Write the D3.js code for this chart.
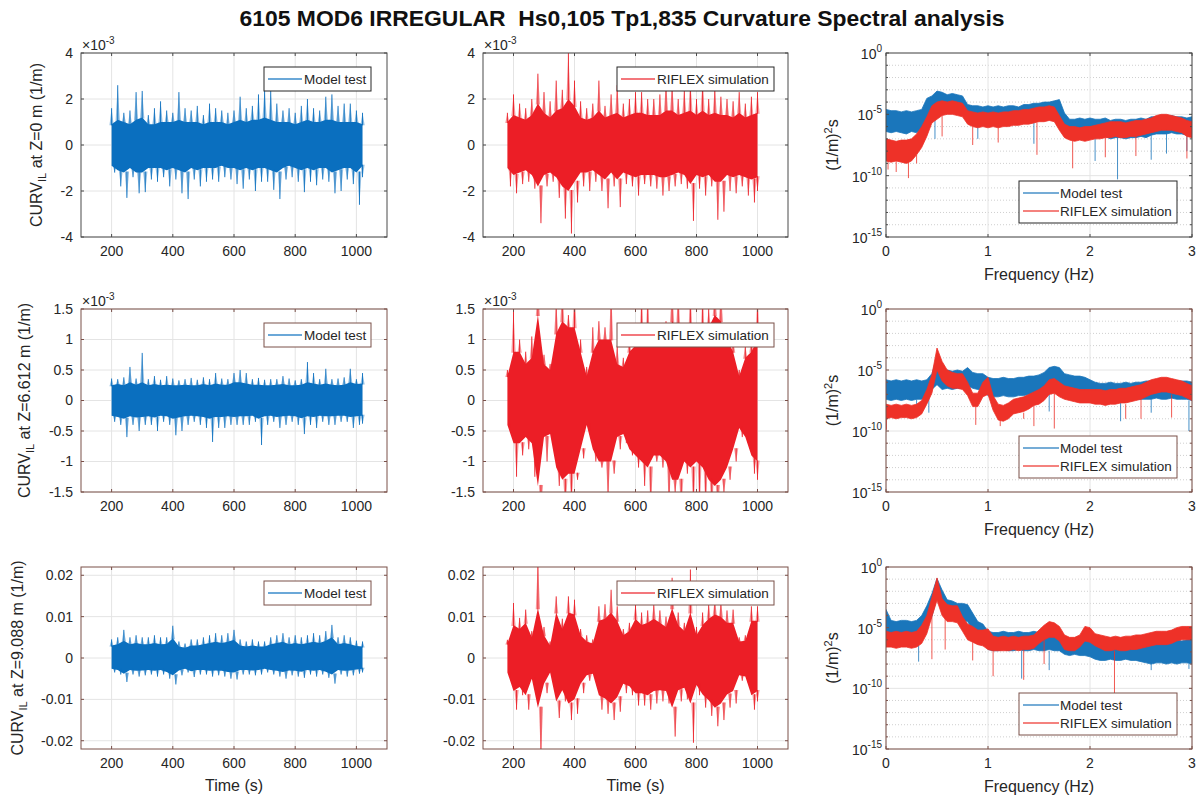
<!DOCTYPE html>
<html><head><meta charset="utf-8">
<script src="https://cdn.jsdelivr.net/npm/d3@7"></script>
<style>body{margin:0;background:#fff}svg{font-family:"Liberation Sans",Arial,Helvetica,sans-serif}</style>
</head><body>
<svg id="chart" width="1199" height="800"></svg>
<script>
// ---------------- DATA ----------------
const TITLE = "6105 MOD6 IRREGULAR  Hs0,105 Tp1,835 Curvature Spectral analysis";
const TIME_TICKS = [200,400,600,800,1000];
const TIME_DOMAIN = [100,1100];
const FREQ_TICKS = [0,1,2,3];
const PSD_EXP_TICKS = [-15,-10,-5,0];
const Y_TICKS_R1 = [-4,-2,0,2,4];
const Y_TICKS_R2 = [-1.5,-1,-0.5,0,0.5,1,1.5];
const Y_TICKS_R3 = [-0.02,-0.01,0,0.01,0.02];
const Z_LABELS = ["Z=0 m","Z=6.612 m","Z=9.088 m"];
const SERIES_NAMES = ["Model test","RIFLEX simulation"];

// time bins (s)
const T_MODEL = [200,220,240,260,280,300,320,340,360,380,400,420,440,460,480,500,520,540,560,580,600,620,640,660,680,700,720,740,760,780,800,820,840,860,880,900,920,940,960,980,1000,1020];
const T_RIFLEX = [180,200,220,240,260,280,300,320,340,360,380,400,420,440,460,480,500,520,540,560,580,600,620,640,660,680,700,720,740,760,780,800,820,840,860,880,900,920,940,960,980,1000];

// Z=0, model test (x1e-3 1/m): peak / trough per bin and dense core band
const Z0_MODEL_HI = [1.6,2.6,1.4,1.5,2.3,2.35,1.3,1.6,1.9,1.5,1.4,2.3,1.6,1.5,1.7,1.3,1.8,1.6,1.5,1.4,1.5,2.1,1.6,1.7,2.2,2.45,2.35,1.8,1.5,1.6,1.4,1.7,2.0,1.6,1.5,2.1,2.2,1.7,1.8,1.8,1.5,1.4];
const Z0_MODEL_LO = [-1.2,-1.8,-2.3,-1.4,-2.1,-2.05,-1.5,-1.6,-1.4,-1.8,-1.5,-2.1,-2.35,-1.5,-1.8,-1.6,-1.5,-1.6,-1.4,-1.5,-1.7,-1.9,-1.5,-2.0,-1.6,-1.6,-1.95,-2.35,-1.5,-1.4,-1.6,-2.05,-1.6,-1.75,-1.5,-1.6,-2.1,-2.0,-1.5,-1.7,-2.6,-1.4];
const Z0_MODEL_CHI = [0.9,1.1,1.0,0.9,1.1,1.2,0.9,0.9,1.0,1.0,1.0,1.1,1.0,1.0,1.0,0.9,1.0,1.0,1.0,0.9,1.0,1.1,1.0,1.1,1.1,1.2,1.1,1.0,1.0,1.0,0.9,1.0,1.1,1.0,1.0,1.1,1.1,1.0,1.0,1.0,1.0,0.9];
const Z0_MODEL_CLO = [-0.9,-1.1,-1.2,-1.0,-1.2,-1.2,-1.0,-1.0,-1.0,-1.1,-1.0,-1.1,-1.2,-1.0,-1.1,-1.0,-1.0,-1.0,-0.9,-1.0,-1.0,-1.1,-1.0,-1.1,-1.0,-1.0,-1.1,-1.2,-1.0,-0.9,-1.0,-1.1,-1.0,-1.1,-1.0,-1.0,-1.2,-1.1,-1.0,-1.0,-1.2,-0.9];
// Z=0, RIFLEX (x1e-3 1/m)
const Z0_RIF_HI = [1.4,2.2,1.8,1.6,2.0,3.1,2.3,1.9,2.8,2.4,4.0,2.8,1.9,1.6,1.8,2.8,1.7,2.2,2.6,1.8,2.0,2.3,2.3,2.0,2.0,2.2,2.7,2.6,2.0,2.4,2.7,2.0,2.8,2.0,2.5,2.1,2.0,1.9,2.3,1.8,2.1,2.3];
const Z0_RIF_LO = [-1.8,-2.1,-1.7,-1.6,-1.9,-3.4,-1.8,-1.6,-2.3,-3.2,-3.85,-2.5,-1.8,-2.0,-1.6,-2.0,-2.75,-1.8,-2.7,-1.7,-1.8,-2.2,-1.7,-1.8,-1.9,-2.2,-2.0,-1.8,-1.7,-1.9,-3.3,-1.9,-2.2,-1.8,-3.25,-2.9,-2.0,-2.1,-1.8,-2.2,-2.5,-2.0];
const Z0_RIF_CHI = [1.0,1.3,1.2,1.1,1.3,1.8,1.4,1.2,1.5,1.6,2.0,1.7,1.2,1.1,1.2,1.5,1.2,1.3,1.4,1.2,1.3,1.4,1.4,1.3,1.3,1.3,1.5,1.5,1.3,1.4,1.5,1.3,1.5,1.3,1.4,1.3,1.3,1.2,1.4,1.2,1.3,1.4];
const Z0_RIF_CLO = [-1.0,-1.3,-1.2,-1.1,-1.3,-1.8,-1.3,-1.2,-1.4,-1.8,-2.0,-1.6,-1.2,-1.2,-1.1,-1.3,-1.5,-1.2,-1.5,-1.2,-1.3,-1.4,-1.3,-1.3,-1.3,-1.4,-1.4,-1.3,-1.2,-1.3,-1.7,-1.3,-1.4,-1.3,-1.6,-1.6,-1.3,-1.4,-1.3,-1.4,-1.5,-1.4];
// Z=6.612, model test (x1e-3 1/m)
const Z6_MODEL_HI = [0.36,0.35,0.38,0.55,0.36,0.78,0.35,0.4,0.34,0.4,0.36,0.33,0.35,0.37,0.34,0.38,0.35,0.45,0.36,0.35,0.45,0.5,0.45,0.35,0.37,0.34,0.35,0.35,0.4,0.36,0.33,0.35,0.63,0.45,0.35,0.52,0.35,0.36,0.38,0.52,0.35,0.45];
const Z6_MODEL_LO = [-0.35,-0.4,-0.6,-0.4,-0.5,-0.4,-0.4,-0.5,-0.35,-0.4,-0.57,-0.5,-0.4,-0.35,-0.4,-0.45,-0.68,-0.45,-0.45,-0.4,-0.4,-0.4,-0.4,-0.35,-0.73,-0.4,-0.35,-0.45,-0.4,-0.35,-0.4,-0.55,-0.4,-0.45,-0.35,-0.4,-0.4,-0.35,-0.35,-0.45,-0.4,-0.38];
const Z6_MODEL_CHI = [0.25,0.27,0.25,0.3,0.26,0.3,0.25,0.27,0.25,0.26,0.25,0.25,0.26,0.25,0.25,0.27,0.25,0.28,0.26,0.26,0.3,0.3,0.28,0.26,0.26,0.25,0.25,0.26,0.27,0.25,0.25,0.26,0.3,0.28,0.26,0.28,0.26,0.25,0.26,0.3,0.27,0.28];
const Z6_MODEL_CLO = [-0.25,-0.27,-0.3,-0.26,-0.28,-0.27,-0.26,-0.28,-0.25,-0.26,-0.3,-0.28,-0.26,-0.25,-0.26,-0.27,-0.3,-0.27,-0.27,-0.26,-0.27,-0.26,-0.26,-0.25,-0.3,-0.26,-0.25,-0.27,-0.26,-0.25,-0.26,-0.29,-0.26,-0.27,-0.25,-0.26,-0.26,-0.25,-0.25,-0.27,-0.26,-0.25];
// Z=6.612, RIFLEX (x1e-3 1/m), peaks beyond 1.5 are clipped by the axes
const Z6_RIF_HI = [0.5,1.48,1.0,0.8,1.05,1.8,0.75,0.6,1.6,1.8,1.4,1.8,1.0,0.55,1.2,1.3,1.2,1.8,0.9,0.7,1.0,1.1,1.8,1.8,1.2,1.1,1.3,1.8,1.8,1.2,1.8,1.1,1.8,1.5,1.8,1.8,1.2,1.0,0.5,0.9,1.0,1.8];
const Z6_RIF_LO = [-0.45,-1.25,-0.9,-0.8,-1.25,-1.8,-1.0,-0.7,-1.4,-1.8,-1.7,-1.3,-0.95,-0.5,-1.0,-1.1,-1.6,-1.2,-0.8,-0.7,-0.9,-1.1,-1.4,-1.8,-1.0,-1.1,-1.8,-1.5,-1.8,-1.2,-1.8,-1.8,-1.8,-1.8,-1.8,-1.5,-1.3,-1.0,-0.6,-0.7,-1.2,-1.3];
const Z6_RIF_CHI = [0.4,0.8,0.8,0.6,0.7,1.4,0.6,0.5,1.1,1.3,1.2,1.2,0.8,0.4,0.8,1.0,1.0,1.0,0.6,0.55,0.8,0.9,1.0,1.0,0.9,0.9,1.0,1.3,1.2,1.0,1.1,0.9,1.0,1.2,1.4,1.3,1.0,0.8,0.4,0.7,0.8,1.0];
const Z6_RIF_CLO = [-0.4,-0.7,-0.7,-0.6,-0.7,-1.4,-0.6,-0.55,-1.1,-1.3,-1.2,-1.2,-0.8,-0.4,-0.8,-1.0,-1.0,-1.0,-0.6,-0.55,-0.8,-0.9,-1.0,-1.1,-0.9,-0.9,-1.0,-1.3,-1.3,-1.0,-1.1,-1.0,-1.1,-1.3,-1.4,-1.3,-1.1,-0.8,-0.45,-0.6,-0.9,-1.0];
// Z=9.088, model test (1/m)
const Z9_MODEL_HI = [0.0045,0.005,0.0068,0.005,0.0055,0.005,0.005,0.0055,0.005,0.005,0.0078,0.004,0.0035,0.0045,0.0045,0.005,0.0055,0.006,0.0055,0.006,0.0068,0.0045,0.004,0.0045,0.004,0.004,0.005,0.0055,0.006,0.005,0.0055,0.005,0.0055,0.006,0.0055,0.0065,0.008,0.005,0.0055,0.005,0.0042,0.004];
const Z9_MODEL_LO = [-0.0035,-0.004,-0.0058,-0.004,-0.0045,-0.0042,-0.004,-0.0045,-0.004,-0.005,-0.0064,-0.0042,-0.0035,-0.0046,-0.004,-0.004,-0.0045,-0.0042,-0.0045,-0.005,-0.0052,-0.004,-0.004,-0.0042,-0.004,-0.0035,-0.004,-0.0045,-0.005,-0.0042,-0.0045,-0.0048,-0.004,-0.0045,-0.004,-0.0048,-0.0062,-0.004,-0.0045,-0.0042,-0.0038,-0.0035];
const Z9_MODEL_CHI = [0.003,0.0033,0.0042,0.0033,0.0036,0.0033,0.0033,0.0036,0.0033,0.0034,0.0048,0.0028,0.0025,0.003,0.003,0.0033,0.0036,0.0039,0.0036,0.0039,0.0044,0.003,0.0028,0.003,0.0028,0.0028,0.0033,0.0036,0.0039,0.0033,0.0036,0.0033,0.0036,0.0039,0.0036,0.0042,0.005,0.0033,0.0036,0.0033,0.0029,0.0028];
const Z9_MODEL_CLO = [-0.0026,-0.0029,-0.0038,-0.0029,-0.0031,-0.003,-0.0029,-0.0031,-0.0029,-0.0034,-0.0042,-0.003,-0.0026,-0.0032,-0.0029,-0.0029,-0.0031,-0.003,-0.0031,-0.0034,-0.0035,-0.0029,-0.0029,-0.003,-0.0029,-0.0026,-0.0029,-0.0031,-0.0034,-0.003,-0.0031,-0.0033,-0.0029,-0.0031,-0.0029,-0.0033,-0.004,-0.0029,-0.0031,-0.003,-0.0028,-0.0026];
// Z=9.088, RIFLEX (1/m)
const Z9_RIF_HI = [0.0044,0.0133,0.0097,0.0117,0.0065,0.024,0.0075,0.004,0.0149,0.0095,0.0149,0.0141,0.007,0.0055,0.0045,0.0125,0.013,0.0165,0.0125,0.007,0.0085,0.013,0.011,0.0115,0.013,0.0115,0.010,0.0194,0.011,0.0085,0.0214,0.0075,0.011,0.013,0.014,0.0135,0.0115,0.0117,0.005,0.0055,0.0125,0.0125];
const Z9_RIF_LO = [-0.0044,-0.0125,-0.009,-0.0125,-0.0065,-0.024,-0.0085,-0.0045,-0.0145,-0.0105,-0.015,-0.0135,-0.0085,-0.0055,-0.005,-0.0125,-0.0135,-0.015,-0.013,-0.0085,-0.009,-0.0115,-0.0115,-0.0125,-0.011,-0.0105,-0.011,-0.019,-0.0105,-0.01,-0.0205,-0.009,-0.012,-0.014,-0.0165,-0.015,-0.012,-0.011,-0.0055,-0.006,-0.0125,-0.0105];
const Z9_RIF_CHI = [0.0035,0.008,0.007,0.0085,0.005,0.012,0.0055,0.003,0.011,0.007,0.011,0.0105,0.0055,0.004,0.0035,0.009,0.0095,0.011,0.009,0.0055,0.0065,0.0095,0.008,0.0085,0.0095,0.0085,0.0075,0.012,0.008,0.0065,0.011,0.0055,0.008,0.0095,0.0105,0.01,0.0085,0.0085,0.004,0.0042,0.009,0.009];
const Z9_RIF_CLO = [-0.0035,-0.008,-0.007,-0.009,-0.005,-0.012,-0.0062,-0.0035,-0.0105,-0.0078,-0.011,-0.01,-0.0062,-0.0042,-0.0038,-0.009,-0.0098,-0.011,-0.0095,-0.0062,-0.0068,-0.0085,-0.0085,-0.009,-0.008,-0.0078,-0.008,-0.012,-0.0078,-0.0072,-0.011,-0.0065,-0.0088,-0.0102,-0.012,-0.011,-0.0088,-0.008,-0.0042,-0.0045,-0.009,-0.008];

// spectra: frequency (Hz) and log10 of PSD band upper / lower edge
const FREQ = [0,0.05,0.1,0.15,0.2,0.25,0.3,0.35,0.4,0.45,0.5,0.55,0.6,0.65,0.7,0.75,0.8,0.85,0.9,0.95,1,1.05,1.1,1.15,1.2,1.25,1.3,1.35,1.4,1.45,1.5,1.55,1.6,1.65,1.7,1.75,1.8,1.85,1.9,1.95,2,2.05,2.1,2.15,2.2,2.25,2.3,2.35,2.4,2.45,2.5,2.55,2.6,2.65,2.7,2.75,2.8,2.85,2.9,2.95,3];
const S0_MODEL_HI = [-4.6,-4.7,-4.7,-4.8,-4.7,-4.8,-4.7,-4.6,-3.7,-3.5,-3.1,-3.2,-3.4,-3.3,-3.4,-3.5,-4.2,-4.3,-4.3,-4.4,-4.3,-4.4,-4.3,-4.4,-4.3,-4.3,-4.4,-4.2,-4.2,-4.1,-4.1,-4.0,-4.0,-3.9,-3.8,-4.9,-5.4,-5.4,-5.3,-5.4,-5.3,-5.4,-5.4,-5.3,-5.5,-5.4,-5.4,-5.5,-5.4,-5.4,-5.3,-5.4,-5.2,-5.2,-5.1,-5.2,-5.1,-5.2,-5.2,-5.3,-5.2];
const S0_MODEL_LO = [-6.4,-6.5,-6.4,-6.5,-6.6,-6.4,-6.5,-6.2,-5.3,-4.9,-4.6,-4.6,-4.7,-4.7,-4.7,-4.9,-5.6,-5.6,-5.7,-5.6,-5.6,-5.7,-5.6,-5.6,-5.6,-5.7,-5.6,-5.5,-5.5,-5.5,-5.4,-5.4,-5.3,-5.3,-5.3,-5.9,-6.8,-6.9,-6.8,-6.9,-6.8,-6.9,-6.9,-6.8,-7.0,-6.9,-6.9,-7.0,-6.9,-6.9,-6.8,-6.9,-6.7,-6.6,-6.6,-6.6,-6.5,-6.6,-6.6,-6.7,-6.6];
const S0_RIF_HI = [-7.0,-7.1,-7.2,-7.1,-7.1,-7.0,-6.6,-6.0,-5.2,-4.3,-4.0,-3.9,-4.0,-3.9,-4.0,-4.1,-4.7,-4.8,-4.9,-4.8,-4.9,-4.8,-4.9,-4.8,-4.8,-4.7,-4.7,-4.6,-4.6,-4.5,-4.4,-4.4,-4.3,-4.4,-5.1,-5.8,-6.0,-6.0,-6.1,-6.0,-6.0,-5.9,-5.8,-5.7,-5.6,-5.6,-5.6,-5.7,-5.6,-5.5,-5.5,-5.4,-5.3,-5.1,-5.0,-5.0,-5.1,-5.2,-5.3,-5.5,-5.6];
const S0_RIF_LO = [-8.8,-8.9,-8.8,-8.9,-9.0,-8.8,-8.3,-7.7,-6.8,-5.7,-5.4,-5.1,-5.0,-5.0,-5.1,-5.2,-5.8,-6.0,-6.1,-6.0,-6.1,-6.0,-6.1,-6.0,-6.0,-5.9,-5.9,-5.8,-5.8,-5.7,-5.6,-5.6,-5.5,-5.6,-6.3,-6.9,-7.1,-7.2,-7.1,-7.2,-7.1,-7.0,-7.0,-6.9,-6.9,-6.8,-6.9,-6.9,-6.8,-6.8,-6.7,-6.6,-6.5,-6.4,-6.3,-6.3,-6.3,-6.4,-6.5,-6.8,-6.9];
const S1_MODEL_HI = [-5.8,-5.9,-5.8,-5.9,-5.8,-5.9,-5.8,-5.9,-5.8,-5.3,-3.9,-5.1,-5.0,-5.1,-5.0,-5.1,-4.8,-5.2,-5.3,-5.3,-5.6,-5.7,-5.7,-5.6,-5.7,-5.7,-5.6,-5.6,-5.5,-5.5,-5.4,-5.2,-4.8,-4.7,-4.8,-5.3,-5.4,-5.5,-5.5,-5.6,-5.8,-6.0,-6.1,-6.1,-6.0,-6.1,-6.1,-6.0,-6.1,-6.0,-6.0,-5.9,-5.9,-5.8,-5.9,-5.9,-5.8,-5.9,-5.9,-5.9,-6.0];
const S1_MODEL_LO = [-7.4,-7.5,-7.4,-7.5,-7.4,-7.5,-7.4,-7.4,-7.2,-6.6,-6.2,-6.6,-6.5,-6.6,-6.5,-6.5,-6.3,-6.5,-6.6,-6.7,-7.1,-7.2,-7.2,-7.1,-7.2,-7.2,-7.1,-7.1,-7.0,-7.0,-6.9,-6.6,-6.2,-6.1,-6.2,-6.6,-6.7,-6.8,-6.8,-6.9,-7.1,-7.4,-7.5,-7.4,-7.4,-7.5,-7.4,-7.4,-7.5,-7.4,-7.4,-7.4,-7.4,-7.3,-7.4,-7.4,-7.3,-7.4,-7.4,-7.4,-7.5];
const S1_RIF_HI = [-7.8,-7.9,-7.8,-7.9,-7.8,-7.9,-7.8,-7.5,-6.6,-5.4,-3.2,-4.3,-5.0,-5.2,-5.3,-5.3,-6.0,-6.9,-6.9,-6.0,-5.6,-7.1,-7.8,-7.9,-7.7,-7.4,-7.3,-7.2,-7.0,-6.8,-6.6,-6.3,-5.8,-5.7,-6.0,-6.3,-6.4,-6.5,-6.6,-6.6,-6.6,-6.6,-6.6,-6.7,-6.6,-6.6,-6.5,-6.5,-6.4,-6.3,-6.2,-6.0,-5.8,-5.7,-5.6,-5.6,-5.7,-5.8,-5.9,-6.1,-6.3];
const S1_RIF_LO = [-9.0,-8.9,-9.0,-8.9,-8.9,-9.0,-8.9,-8.6,-7.8,-6.9,-5.0,-5.9,-6.3,-6.5,-6.5,-6.6,-7.1,-8.0,-8.0,-7.2,-7.0,-8.3,-9.1,-9.2,-9.0,-8.6,-8.5,-8.4,-8.2,-7.9,-7.8,-7.5,-7.0,-6.9,-7.2,-7.4,-7.5,-7.6,-7.7,-7.7,-7.7,-7.8,-7.8,-7.9,-7.8,-7.8,-7.7,-7.7,-7.6,-7.5,-7.4,-7.2,-7.0,-6.9,-6.8,-6.8,-6.9,-7.0,-7.1,-7.3,-7.5];
const S2_MODEL_HI = [-3.5,-4.4,-4.5,-4.4,-4.4,-4.5,-4.4,-4.0,-3.2,-2.2,-0.95,-1.9,-2.7,-2.8,-3.0,-3.0,-3.1,-3.8,-4.5,-4.7,-5.3,-5.4,-5.4,-5.3,-5.4,-5.4,-5.3,-5.4,-5.4,-5.3,-5.4,-5.5,-5.5,-5.6,-5.6,-5.8,-5.9,-5.9,-6.0,-5.9,-5.9,-6.0,-6.0,-6.1,-6.0,-6.0,-6.1,-6.0,-6.0,-6.1,-6.0,-6.0,-6.1,-6.0,-6.0,-6.1,-6.0,-6.0,-6.1,-6.0,-5.9];
const S2_MODEL_LO = [-6.0,-6.0,-6.1,-6.0,-6.0,-6.1,-6.0,-5.7,-4.9,-4.1,-2.5,-3.7,-4.1,-4.1,-4.4,-4.4,-4.5,-5.2,-5.7,-5.8,-6.8,-6.9,-6.9,-6.8,-6.9,-6.9,-6.8,-6.9,-6.9,-6.8,-6.9,-6.9,-6.8,-6.9,-6.9,-7.2,-7.3,-7.2,-7.3,-7.3,-7.4,-7.6,-7.7,-7.7,-7.6,-7.7,-7.7,-7.6,-7.7,-7.7,-7.8,-7.9,-8.0,-7.9,-7.9,-8.0,-7.9,-8.0,-7.9,-7.9,-8.0];
const S2_RIF_HI = [-5.3,-5.4,-5.3,-5.4,-5.3,-5.4,-5.3,-4.8,-4.0,-2.5,-0.9,-2.6,-3.1,-3.2,-3.2,-4.1,-4.7,-4.9,-5.2,-5.2,-5.1,-5.7,-5.8,-5.7,-5.8,-5.7,-5.8,-5.7,-5.7,-5.6,-5.2,-4.8,-4.5,-4.6,-4.9,-5.6,-5.8,-5.8,-5.6,-4.9,-5.0,-5.5,-5.6,-5.7,-5.8,-5.7,-5.8,-5.7,-5.7,-5.6,-5.6,-5.5,-5.4,-5.3,-5.3,-5.3,-5.2,-5.0,-4.9,-4.9,-4.9];
const S2_RIF_LO = [-6.6,-6.6,-6.7,-6.6,-6.6,-6.7,-6.6,-6.3,-5.5,-4.1,-2.75,-4.0,-4.5,-4.5,-4.6,-5.3,-6.0,-6.2,-6.4,-6.5,-6.8,-6.9,-6.9,-6.9,-6.9,-6.8,-6.9,-6.8,-6.8,-6.7,-6.3,-6.0,-5.8,-5.8,-6.1,-6.8,-6.9,-6.9,-6.6,-6.1,-6.2,-6.5,-6.7,-6.9,-6.9,-6.8,-6.9,-6.9,-6.8,-6.8,-6.7,-6.6,-6.5,-6.4,-6.4,-6.4,-6.3,-6.1,-6.0,-6.0,-6.0];
// isolated downward spikes in the spectra: [freq, top log10, bottom log10]
const S0_MODEL_DIPS = [[0.48,-4.8,-7.0],[0.9,-5.6,-7.0],[1.45,-5.5,-7.4],[2.05,-6.8,-8.8],[2.27,-6.9,-10.3],[2.6,-6.7,-8.7],[2.75,-6.6,-8.2],[2.95,-6.7,-8.0]];
const S0_RIF_DIPS = [[0.02,-8.8,-9.5],[0.1,-8.8,-9.7],[0.22,-8.9,-10.2],[0.3,-8.3,-9.0],[0.55,-5.1,-6.8],[0.85,-6.0,-7.5],[1.1,-6.0,-7.3],[1.48,-5.7,-8.3],[1.83,-7.1,-9.4],[2.15,-6.9,-8.5],[2.45,-6.8,-8.4],[2.95,-6.8,-8.6]];
const S1_MODEL_DIPS = [[0.3,-7.4,-8.3],[0.42,-7.0,-8.5],[1.6,-6.2,-8.4],[2.3,-7.4,-9.2],[2.6,-7.4,-8.5],[2.97,-7.5,-10.0]];
const S1_RIF_DIPS = [[0.005,-9.0,-9.9],[0.88,-8.0,-9.5],[1.12,-9.1,-9.6],[1.35,-8.5,-9.0],[1.45,-7.9,-9.6],[1.65,-6.9,-9.8],[2.35,-7.8,-9.0],[2.5,-7.4,-9.0],[2.8,-7.0,-8.9]];
const S2_MODEL_DIPS = [[0.32,-6.0,-7.8],[1.33,-6.9,-9.2],[1.6,-6.9,-8.5],[2.6,-7.9,-8.5],[2.97,-8.0,-8.4]];
const S2_RIF_DIPS = [[0.45,-4.1,-7.6],[0.58,-4.0,-6.8],[0.85,-6.2,-7.7],[1.05,-6.9,-9.0],[1.35,-6.8,-9.3],[1.55,-6.0,-8.0],[2.24,-6.9,-10.4]];

// ---------------- LAYOUT / STYLE ----------------
const COLS = [[81,387],[483,788],[886,1192]];
const ROWS = [[53,237],[309,492],[567,749]];
const BLUE = "#0a6fbf", RED = "#ec1e26", SBLUE = "#1a76bb", SRED = "#ee3128";
const TXT = "#262626", GRID = "#e4e4e4";
const BOX = ["#4a4a4a","#7a5049","#7a5049"];
const LEG_BOX = ["#262626","#7a5049","#7a5049"];
const svg = d3.select("#chart");
const defs = svg.append("defs");

svg.append("text").attr("x",622).attr("y",26).attr("text-anchor","middle")
  .style("white-space","pre")
  .attr("font-family",'"Liberation Sans Narrow","Liberation Sans",Arial,sans-serif')
  .attr("font-weight","bold").attr("font-size",22).attr("fill","#111")
  .attr("textLength",765).attr("lengthAdjust","spacingAndGlyphs").text(TITLE);

function clip(id,x0,y0,x1,y1){
  defs.append("clipPath").attr("id",id).append("rect").attr("x",x0).attr("y",y0).attr("width",x1-x0).attr("height",y1-y0);
}

function legend(bx,by,bw,bh,items,lineLen,textOff,box){
  const g = svg.append("g");
  g.append("rect").attr("x",bx).attr("y",by).attr("width",bw).attr("height",bh)
    .attr("fill","#fff").attr("stroke",box).attr("stroke-width",1);
  items.forEach(it=>{
    g.append("line").attr("x1",bx+4).attr("x2",bx+4+lineLen).attr("y1",it.y).attr("y2",it.y)
      .attr("stroke",it.color).attr("stroke-width",1.6).attr("opacity",0.8);
    g.append("text").attr("x",bx+textOff).attr("y",it.y).attr("dy","0.35em")
      .attr("font-size",13.5).attr("fill",TXT).text(it.label);
  });
}

function timePanel(p){
  const [x0,x1]=COLS[p.col],[y0,y1]=ROWS[p.row];
  const x=d3.scaleLinear().domain(TIME_DOMAIN).range([x0,x1]);
  const y=d3.scaleLinear().domain(p.yDomain).range([y1,y0]);
  const g=svg.append("g");
  g.append("rect").attr("x",x0).attr("y",y0).attr("width",x1-x0).attr("height",y1-y0).attr("fill","#fff");
  g.append("g").selectAll("line").data(TIME_TICKS).join("line")
    .attr("x1",d=>x(d)).attr("x2",d=>x(d)).attr("y1",y0).attr("y2",y1).attr("stroke",GRID);
  g.append("g").selectAll("line").data(p.yTicks).join("line")
    .attr("x1",x0).attr("x2",x1).attr("y1",d=>y(d)).attr("y2",d=>y(d)).attr("stroke",GRID);
  const id="clipT"+p.row+p.col; clip(id,x0,y0,x1,y1);
  const dg=g.append("g").attr("clip-path",`url(#${id})`);
  const area=d3.area().x((d,i)=>x(p.t[i])).y0((d,i)=>y(p.cLo[i])).y1((d,i)=>y(p.cHi[i]));
  const n=p.t.length;
  const lowT=(t,i)=> i<n-1 ? t+10 : t; // troughs sit between bins, last one at the final bin
  const tri=d3.line();
  const half=7; // s, half base of each tooth
  p.t.forEach((t,i)=>{
    dg.append("path").attr("d",tri([[x(t-half),y(p.cHi[i])+1],[x(t),y(p.hi[i])],[x(t+half),y(p.cHi[i])+1]]))
      .attr("fill",p.color).attr("opacity",0.45);
    const tl=lowT(t,i);
    dg.append("path").attr("d",tri([[x(tl-half),y(p.cLo[i])-1],[x(tl),y(p.lo[i])],[x(tl+half),y(p.cLo[i])-1]]))
      .attr("fill",p.color).attr("opacity",0.45);
  });
  dg.append("path").attr("d",area(p.t)).attr("fill",p.color);
  dg.append("g").selectAll("line").data(p.t).join("line")
    .attr("x1",d=>x(d)).attr("x2",d=>x(d)).attr("y1",(d,i)=>y(p.cHi[i])+1).attr("y2",(d,i)=>y(p.hi[i]))
    .attr("stroke",p.color).attr("stroke-width",1).attr("opacity",0.9);
  dg.append("g").selectAll("line").data(p.t).join("line")
    .attr("x1",(d,i)=>x(lowT(d,i))).attr("x2",(d,i)=>x(lowT(d,i))).attr("y1",(d,i)=>y(p.cLo[i])-1).attr("y2",(d,i)=>y(p.lo[i]))
    .attr("stroke",p.color).attr("stroke-width",1).attr("opacity",0.9);
  // box + ticks
  g.append("rect").attr("x",x0).attr("y",y0).attr("width",x1-x0).attr("height",y1-y0)
    .attr("fill","none").attr("stroke",BOX[p.row]);
  const tk=g.append("g").attr("stroke",BOX[p.row]);
  TIME_TICKS.forEach(d=>{
    tk.append("line").attr("x1",x(d)).attr("x2",x(d)).attr("y1",y1).attr("y2",y1-3);
    tk.append("line").attr("x1",x(d)).attr("x2",x(d)).attr("y1",y0).attr("y2",y0+3);
  });
  p.yTicks.forEach(d=>{
    tk.append("line").attr("x1",x0).attr("x2",x0+3).attr("y1",y(d)).attr("y2",y(d));
    tk.append("line").attr("x1",x1).attr("x2",x1-3).attr("y1",y(d)).attr("y2",y(d));
  });
  g.append("g").selectAll("text").data(TIME_TICKS).join("text")
    .attr("x",d=>x(d)).attr("y",y1+19).attr("text-anchor","middle").attr("font-size",14).attr("fill",TXT).text(d=>String(d));
  g.append("g").selectAll("text").data(p.yTicks).join("text")
    .attr("x",x0-8).attr("y",d=>y(d)).attr("dy","0.35em").attr("text-anchor","end").attr("font-size",14).attr("fill",TXT).text(d=>String(d));
  if(p.mult){
    const m=g.append("text").attr("x",x0+1).attr("y",y0-3).attr("font-size",14).attr("fill",TXT);
    m.append("tspan").text("\u00d710");
    m.append("tspan").attr("font-size",10).attr("dy",-6).text("-3");
  }
  if(p.ylabel){
    const cy=(y0+y1)/2;
    const t=g.append("text").attr("transform",`translate(${p.ylx},${cy}) rotate(-90)`)
      .attr("text-anchor","middle").attr("font-size",16).attr("fill",TXT);
    t.append("tspan").text("CURV");
    t.append("tspan").attr("font-size",11).attr("dy",4).text("IL");
    t.append("tspan").attr("dy",-4).text(" at "+p.ylabel+" (1/m)");
  }
  if(p.xlabel){
    g.append("text").attr("x",(x0+x1)/2).attr("y",y1+42).attr("text-anchor","middle")
      .attr("font-size",16).attr("fill",TXT).text(p.xlabel);
  }
  if(p.col===0) legend(x1-123,y0+14,107,24,[{label:p.name,color:p.color,y:y0+26}],34,40,LEG_BOX[p.row]);
  else legend(x1-171,y0+14,157,24,[{label:p.name,color:p.color,y:y0+26}],34,40,LEG_BOX[p.row]);
}

function specPanel(p){
  const [x0,x1]=COLS[2],[y0,y1]=ROWS[p.row];
  const x=d3.scaleLinear().domain([0,3]).range([x0,x1]);
  const y=d3.scaleLog().domain([1e-15,1]).range([y1,y0]);
  const g=svg.append("g");
  g.append("rect").attr("x",x0).attr("y",y0).attr("width",x1-x0).attr("height",y1-y0).attr("fill","#fff");
  const decades=d3.range(-14,0).filter(e=>e%5!==0);
  g.append("g").selectAll("line").data(decades).join("line")
    .attr("x1",x0).attr("x2",x1).attr("y1",e=>y(Math.pow(10,e))).attr("y2",e=>y(Math.pow(10,e)))
    .attr("stroke","#cfcfcf").attr("stroke-dasharray","1,2");
  g.append("g").selectAll("line").data(PSD_EXP_TICKS).join("line")
    .attr("x1",x0).attr("x2",x1).attr("y1",e=>y(Math.pow(10,e))).attr("y2",e=>y(Math.pow(10,e))).attr("stroke",GRID);
  g.append("g").selectAll("line").data(FREQ_TICKS).join("line")
    .attr("x1",d=>x(d)).attr("x2",d=>x(d)).attr("y1",y0).attr("y2",y1).attr("stroke",GRID);
  const id="clipS"+p.row; clip(id,x0,y0,x1,y1);
  const dg=g.append("g").attr("clip-path",`url(#${id})`);
  p.series.forEach(s=>{
    const area=d3.area().x((d,i)=>x(FREQ[i])).y0((d,i)=>y(Math.pow(10,s.lo[i]))).y1((d,i)=>y(Math.pow(10,s.hi[i])));
    dg.append("path").attr("d",area(FREQ)).attr("fill",s.color).attr("stroke",s.color).attr("stroke-width",0.8);
    dg.append("g").selectAll("line").data(s.dips).join("line")
      .attr("x1",d=>x(d[0])).attr("x2",d=>x(d[0])).attr("y1",d=>y(Math.pow(10,d[1]))).attr("y2",d=>y(Math.pow(10,d[2])))
      .attr("stroke",s.color).attr("stroke-width",1).attr("opacity",0.8);
  });
  g.append("rect").attr("x",x0).attr("y",y0).attr("width",x1-x0).attr("height",y1-y0)
    .attr("fill","none").attr("stroke",BOX[p.row]);
  const tk=g.append("g").attr("stroke",BOX[p.row]);
  FREQ_TICKS.forEach(d=>{
    tk.append("line").attr("x1",x(d)).attr("x2",x(d)).attr("y1",y1).attr("y2",y1-3);
    tk.append("line").attr("x1",x(d)).attr("x2",x(d)).attr("y1",y0).attr("y2",y0+3);
  });
  d3.range(-15,1).forEach(e=>{
    const L = e%5===0?3:2;
    tk.append("line").attr("x1",x0).attr("x2",x0+L).attr("y1",y(Math.pow(10,e))).attr("y2",y(Math.pow(10,e)));
    tk.append("line").attr("x1",x1).attr("x2",x1-L).attr("y1",y(Math.pow(10,e))).attr("y2",y(Math.pow(10,e)));
  });
  g.append("g").selectAll("text").data(FREQ_TICKS).join("text")
    .attr("x",d=>x(d)).attr("y",y1+19).attr("text-anchor","middle").attr("font-size",14).attr("fill",TXT).text(d=>String(d));
  PSD_EXP_TICKS.forEach(e=>{
    const t=g.append("text").attr("x",x0-4).attr("y",y(Math.pow(10,e))+6).attr("text-anchor","end").attr("font-size",14).attr("fill",TXT);
    t.append("tspan").text("10");
    t.append("tspan").attr("font-size",10).attr("dy",-7).text(String(e));
  });
  const cy=(y0+y1)/2;
  const t=g.append("text").attr("transform",`translate(838,${cy}) rotate(-90)`)
    .attr("text-anchor","middle").attr("font-size",16).attr("fill",TXT);
  t.append("tspan").text("(1/m)");
  t.append("tspan").attr("font-size",11).attr("dy",-6).text("2");
  t.append("tspan").attr("dy",6).text("s");
  g.append("text").attr("x",(x0+x1)/2).attr("y",y1+43).attr("text-anchor","middle")
    .attr("font-size",16).attr("fill",TXT).text("Frequency (Hz)");
  legend(x1-173,y1-56,158,42,[
    {label:SERIES_NAMES[0],color:SBLUE,y:y1-44},
    {label:SERIES_NAMES[1],color:SRED,y:y1-26}],36,41,LEG_BOX[p.row]);
}

const timePanels=[
  {row:0,col:0,t:T_MODEL,hi:Z0_MODEL_HI,lo:Z0_MODEL_LO,cHi:Z0_MODEL_CHI,cLo:Z0_MODEL_CLO,color:BLUE,name:SERIES_NAMES[0],yDomain:[-4,4],yTicks:Y_TICKS_R1,mult:true,ylabel:Z_LABELS[0],ylx:42},
  {row:0,col:1,t:T_RIFLEX,hi:Z0_RIF_HI,lo:Z0_RIF_LO,cHi:Z0_RIF_CHI,cLo:Z0_RIF_CLO,color:RED,name:SERIES_NAMES[1],yDomain:[-4,4],yTicks:Y_TICKS_R1,mult:true},
  {row:1,col:0,t:T_MODEL,hi:Z6_MODEL_HI,lo:Z6_MODEL_LO,cHi:Z6_MODEL_CHI,cLo:Z6_MODEL_CLO,color:BLUE,name:SERIES_NAMES[0],yDomain:[-1.5,1.5],yTicks:Y_TICKS_R2,mult:true,ylabel:Z_LABELS[1],ylx:30},
  {row:1,col:1,t:T_RIFLEX,hi:Z6_RIF_HI,lo:Z6_RIF_LO,cHi:Z6_RIF_CHI,cLo:Z6_RIF_CLO,color:RED,name:SERIES_NAMES[1],yDomain:[-1.5,1.5],yTicks:Y_TICKS_R2,mult:true},
  {row:2,col:0,t:T_MODEL,hi:Z9_MODEL_HI,lo:Z9_MODEL_LO,cHi:Z9_MODEL_CHI,cLo:Z9_MODEL_CLO,color:BLUE,name:SERIES_NAMES[0],yDomain:[-0.022,0.022],yTicks:Y_TICKS_R3,ylabel:Z_LABELS[2],ylx:23,xlabel:"Time (s)"},
  {row:2,col:1,t:T_RIFLEX,hi:Z9_RIF_HI,lo:Z9_RIF_LO,cHi:Z9_RIF_CHI,cLo:Z9_RIF_CLO,color:RED,name:SERIES_NAMES[1],yDomain:[-0.022,0.022],yTicks:Y_TICKS_R3,xlabel:"Time (s)"}
];
timePanels.forEach(timePanel);

const specPanels=[
  {row:0,series:[{hi:S0_MODEL_HI,lo:S0_MODEL_LO,dips:S0_MODEL_DIPS,color:SBLUE},{hi:S0_RIF_HI,lo:S0_RIF_LO,dips:S0_RIF_DIPS,color:SRED}]},
  {row:1,series:[{hi:S1_MODEL_HI,lo:S1_MODEL_LO,dips:S1_MODEL_DIPS,color:SBLUE},{hi:S1_RIF_HI,lo:S1_RIF_LO,dips:S1_RIF_DIPS,color:SRED}]},
  {row:2,series:[{hi:S2_MODEL_HI,lo:S2_MODEL_LO,dips:S2_MODEL_DIPS,color:SBLUE},{hi:S2_RIF_HI,lo:S2_RIF_LO,dips:S2_RIF_DIPS,color:SRED}]}
];
specPanels.forEach(specPanel);
</script>
</body></html>
